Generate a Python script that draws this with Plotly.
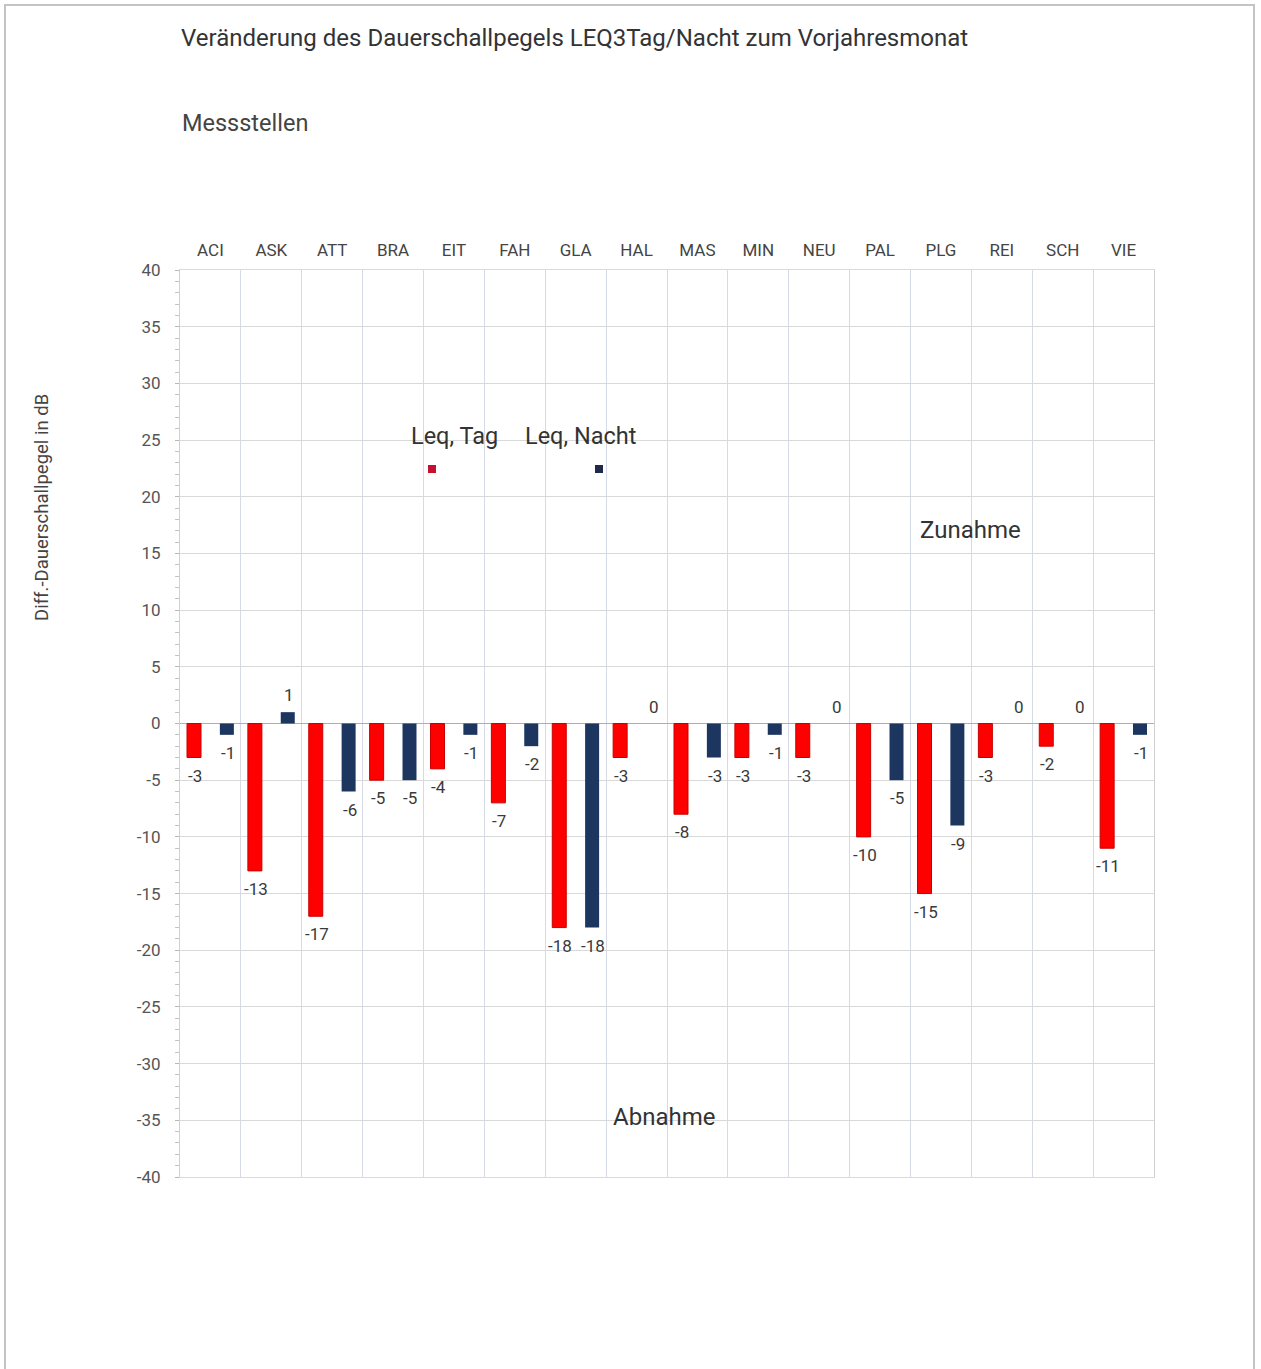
import plotly.graph_objects as go

# Messstellen und Veränderung zum Vorjahresmonat (dB)
stations = ["ACI", "ASK", "ATT", "BRA", "EIT", "FAH", "GLA", "HAL",
            "MAS", "MIN", "NEU", "PAL", "PLG", "REI", "SCH", "VIE"]
leq_tag = [-3, -13, -17, -5, -4, -7, -18, -3, -8, -3, -3, -10, -15, -3, -2, -11]
leq_nacht = [-1, 1, -6, -5, -1, -2, -18, 0, -3, -1, 0, -5, -9, 0, 0, -1]
y_ticks = list(range(-40, 45, 5))

RED = "#ff0000"
NAVY = "#1d3660"
FONT = "Roboto, 'Liberation Sans Narrow', sans-serif"

W, H = 1261, 1369
ML, MR, MT, MB = 180, 107, 270, 192
PW, PH = W - ML - MR, H - MT - MB


def px(x):
    return (x - ML) / PW


def py(y):
    return (H - MB - y) / PH


BAR_W = 0.23
HALF_SEP = 0.27

fig = go.Figure()
fig.add_trace(go.Bar(
    x=stations, y=leq_tag, name="Leq, Tag",
    width=BAR_W, offset=-HALF_SEP - BAR_W / 2,
    marker=dict(color=RED, line=dict(color="#c80000", width=1)),
    showlegend=False,
))
fig.add_trace(go.Bar(
    x=stations, y=leq_nacht, name="Leq, Nacht",
    width=BAR_W, offset=HALF_SEP - BAR_W / 2,
    marker=dict(color=NAVY, line=dict(width=0)),
    showlegend=False,
))

cat_px = PW / len(stations)
annotations = []
for series, sign in ((leq_tag, -1), (leq_nacht, 1)):
    for name, v in zip(stations, series):
        annotations.append(dict(
            x=name, y=v, xref="x", yref="y",
            text=str(v), showarrow=False,
            xshift=sign * HALF_SEP * cat_px + 1,
            yshift=-18 if v < 0 else 17,
            yanchor="middle", xanchor="center",
            font=dict(family=FONT, size=17, color="#3a3a3a"),
        ))

# Titles
annotations.append(dict(
    x=px(179), y=py(38), xref="paper", yref="paper", xanchor="left", yanchor="middle",
    text="Veränderung des Dauerschallpegels LEQ3Tag/Nacht zum Vorjahresmonat",
    showarrow=False, font=dict(family=FONT, size=24, color="#333333"),
))
annotations.append(dict(
    x=px(180), y=py(123), xref="paper", yref="paper", xanchor="left", yanchor="middle",
    text="Messstellen", showarrow=False,
    font=dict(family=FONT, size=23.5, color="#444444"),
))
annotations.append(dict(
    x=px(42), y=py(508), xref="paper", yref="paper", xanchor="center", yanchor="middle",
    text="Diff.-Dauerschallpegel in dB", textangle=-90, showarrow=False,
    font=dict(family=FONT, size=18.5, color="#444444"),
))

# Legend and region labels
for label, cx in (("Leq, Tag", 454), ("Leq, Nacht", 580)):
    annotations.append(dict(
        x=px(cx), y=py(436), xref="paper", yref="paper", xanchor="center", yanchor="middle",
        text=label, showarrow=False, font=dict(family=FONT, size=23.5, color="#333333"),
    ))
for label, cx, cy in (("Zunahme", 970, 530), ("Abnahme", 664, 1117)):
    annotations.append(dict(
        x=px(cx), y=py(cy), xref="paper", yref="paper", xanchor="center", yanchor="middle",
        text=label, showarrow=False, font=dict(family=FONT, size=24, color="#333333"),
    ))

shapes = [
    # outer frame
    dict(type="rect", xref="paper", yref="paper",
         x0=px(5), x1=px(1254), y0=py(5), y1=py(1390),
         line=dict(color="#c4c4c4", width=2), fillcolor="rgba(0,0,0,0)", layer="below"),
    # white panels behind legend and region labels
    dict(type="rect", xref="paper", yref="paper",
         x0=px(358), x1=px(676), y0=py(403), y1=py(535),
         line=dict(width=0), fillcolor="white", layer="between"),
    dict(type="rect", xref="paper", yref="paper",
         x0=px(903), x1=px(1040), y0=py(500), y1=py(556),
         line=dict(width=0), fillcolor="white", layer="between"),
    dict(type="rect", xref="paper", yref="paper",
         x0=px(597), x1=px(740), y0=py(1090), y1=py(1143),
         line=dict(width=0), fillcolor="white", layer="between"),
    # legend swatches
    dict(type="rect", xref="paper", yref="paper",
         x0=px(428), x1=px(436), y0=py(465), y1=py(473),
         line=dict(width=0), fillcolor="#c8102e", layer="above"),
    dict(type="rect", xref="paper", yref="paper",
         x0=px(595), x1=px(603), y0=py(465), y1=py(473),
         line=dict(width=0), fillcolor="#1f2a4a", layer="above"),
]

fig.update_layout(
    width=W, height=H,
    margin=dict(l=ML, r=MR, t=MT, b=MB, pad=0),
    paper_bgcolor="white", plot_bgcolor="white",
    barmode="overlay",
    font=dict(family=FONT, color="#444444"),
    annotations=annotations,
    shapes=shapes,
    xaxis=dict(
        type="category", side="top", tickson="boundaries",
        showgrid=True, gridcolor="#d6d9e6", gridwidth=1,
        ticks="", ticklabelstandoff=6,
        showline=True, linecolor="#d6d9e6", mirror=True,
        tickfont=dict(family=FONT, size=17, color="#444444"),
        range=[-0.5, len(stations) - 0.5],
    ),
    yaxis=dict(
        range=[-40, 40], tickvals=y_ticks, ticktext=[str(v) for v in y_ticks],
        showgrid=True, gridcolor="#d9d9d9", gridwidth=1,
        zeroline=True, zerolinecolor="#a8aebe", zerolinewidth=1,
        ticks="outside", ticklen=4, tickcolor="#b8b8b8",
        minor=dict(dtick=1, ticks="outside", ticklen=4, tickcolor="#c4c4c4", showgrid=False),
        showline=True, linecolor="#d0d0d0", mirror=True,
        ticklabelstandoff=11,
        tickfont=dict(family=FONT, size=17, color="#555555"),
    ),
)

fig.write_html("out.html")
